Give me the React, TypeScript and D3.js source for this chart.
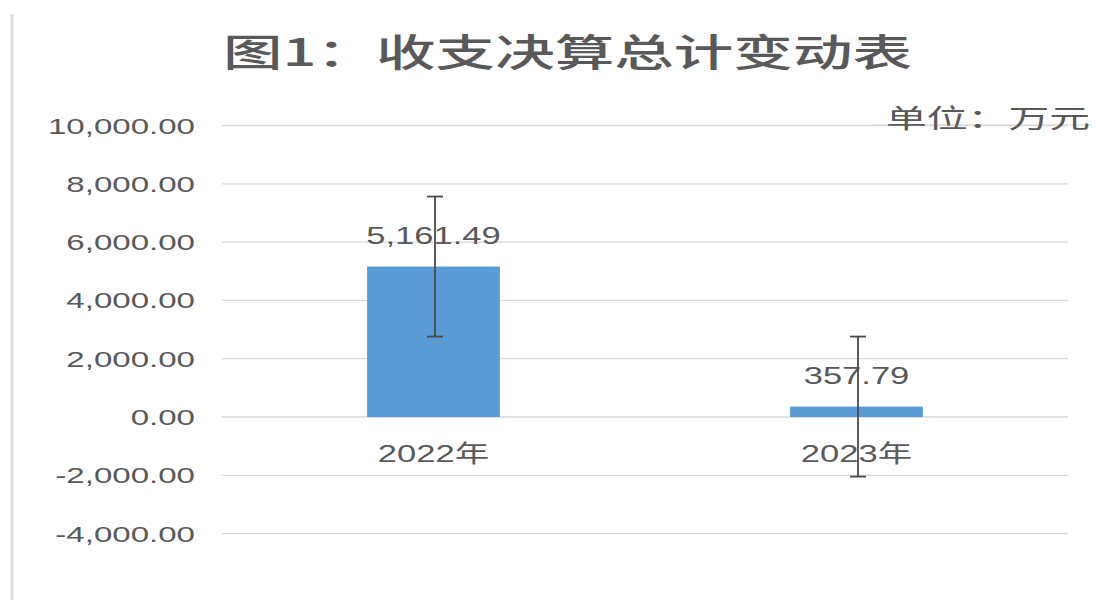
import React from "react";
import * as d3 from "d3";

const categories: string[] = ["2022年", "2023年"];
const values: number[] = [5161.49, 357.79];
const errorAmounts: number[] = [2401.85, 2401.85];
const yTicks: number[] = [10000, 8000, 6000, 4000, 2000, 0, -2000, -4000];
const titleText = "图1：收支决算总计变动表";
const unitText = "单位：万元";

const W = 1096;
const H = 600;
const plotLeft = 222;
const plotRight = 1068;
const TEXT = "#595959";
const GRID = "#D9D9D9";
const BAR = "#5B9BD5";
const ERR = "#4a4a4a";
const SX = 1.47;
const FONT = "'Liberation Sans', Arial, 'Noto Sans CJK SC', sans-serif";
const CJK = "'Noto Sans CJK SC', 'Liberation Sans', sans-serif";

const fmt0 = d3.format(",.2f");
const fmt = (v: number) => fmt0(v).replace("\u2212", "-");

export default function App() {
  const y = d3.scaleLinear().domain([-4000, 10000]).range([533.6, 125.5]);
  const x = d3
    .scaleBand<string>()
    .domain(categories)
    .range([plotLeft, plotRight])
    .paddingInner(0.686)
    .paddingOuter(0.343);
  const bw = x.bandwidth();
  const capHalf = 8;

  const stretched = (
    key: string,
    tx: number,
    ty: number,
    txt: string,
    anchor: "start" | "middle" | "end",
    size: number,
    family = FONT
  ) => (
    <text
      key={key}
      transform={`translate(${tx},${ty}) scale(${SX},1)`}
      textAnchor={anchor}
      fontFamily={family}
      fontSize={size}
      fill={TEXT}
    >
      {txt}
    </text>
  );

  return (
    <svg
      width={W}
      height={H}
      style={{ position: "absolute", left: 0, top: 0, background: "#fff" }}
    >
      <rect x={0} y={0} width={W} height={H} fill="#fff" />
      {/* left border */}
      <line x1={12} x2={12} y1={14} y2={H} stroke="#E0E0E0" strokeWidth={3} />

      {/* title */}
      <text
        x={223}
        y={49}
        textLength={689}
        lengthAdjust="spacingAndGlyphs"
        dominantBaseline="central"
        fontFamily={CJK}
        fontWeight={500}
        fontSize={38}
        fill={TEXT}
      >
        {titleText}
      </text>

      {/* gridlines */}
      {yTicks.map((t) => (
        <line
          key={"g" + t}
          x1={plotLeft}
          x2={plotRight}
          y1={y(t)}
          y2={y(t)}
          stroke={GRID}
          strokeWidth={1.3}
        />
      ))}

      {/* unit */}
      <line x1={872} x2={1092} y1={125} y2={125} stroke={GRID} strokeWidth={1.2} />
      <text
        x={886}
        y={116}
        textLength={204}
        lengthAdjust="spacingAndGlyphs"
        dominantBaseline="central"
        fontFamily={CJK}
        fontSize={26}
        fill={TEXT}
      >
        {unitText}
      </text>

      {/* y tick labels */}
      {yTicks.map((t) => stretched("t" + t, 195, y(t) + 8, fmt(t), "end", 22.5))}

      {/* bars */}
      {categories.map((c, i) => {
        const v = values[i];
        const y0 = y(0);
        const yv = y(v);
        return (
          <rect
            key={"b" + c}
            x={x(c)!}
            y={Math.min(y0, yv)}
            width={bw}
            height={Math.abs(y0 - yv)}
            fill={BAR}
          />
        );
      })}

      {/* category labels */}
      {categories.map((c) =>
        stretched("c" + c, x(c)! + bw / 2, y(0) + 45, c, "middle", 23.5)
      )}

      {/* data labels */}
      {categories.map((c, i) =>
        stretched("d" + c, x(c)! + bw / 2, y(values[i]) - 23, fmt(values[i]), "middle", 23.5)
      )}

      {/* error bars */}
      {categories.map((c, i) => {
        const cx = x(c)! + bw / 2 + 1.5;
        const hi = y(values[i] + errorAmounts[i]);
        const lo = y(values[i] - errorAmounts[i]);
        return (
          <g key={"e" + c} stroke={ERR} strokeWidth={1.8}>
            <line x1={cx} x2={cx} y1={hi} y2={lo} />
            <line x1={cx - capHalf} x2={cx + capHalf} y1={hi} y2={hi} />
            <line x1={cx - capHalf} x2={cx + capHalf} y1={lo} y2={lo} />
          </g>
        );
      })}
    </svg>
  );
}
